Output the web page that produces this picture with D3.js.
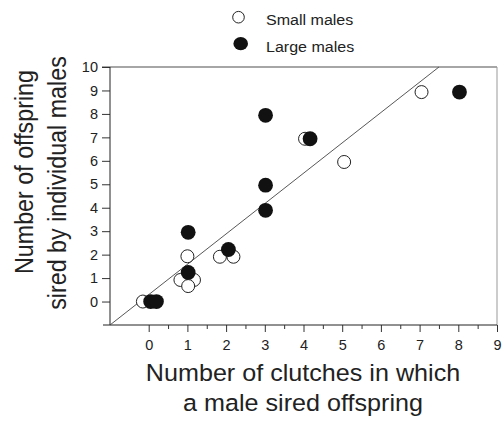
<!DOCTYPE html>
<html>
<head>
<meta charset="utf-8">
<script src="https://cdn.jsdelivr.net/npm/d3@7"></script>
<style>
  body { margin: 0; background: #fff; }
  text { font-family: "Liberation Sans", Arial, sans-serif; fill: #222; }
</style>
</head>
<body>
<svg></svg>
<script>
// small males (open circles)
let smallX = [-0.15, 0.82, 1.17, 1.02, 1.0, 1.84, 2.19, 4.04, 5.05, 7.05]
let smallY = [0, 0.92, 0.92, 0.66, 1.93, 1.91, 1.91, 6.94, 5.95, 8.93]
// large males (filled)
let largeX = [0.05, 0.2, 1.02, 1.02, 2.06, 3.02, 3.02, 3.02, 4.17, 8.03]
let largeY = [0, 0, 1.24, 2.95, 2.22, 7.94, 4.96, 3.89, 6.94, 8.93]

let xTicks = [0, 1, 2, 3, 4, 5, 6, 7, 8, 9]
let xMinor = [0.5, 1.5, 2.5, 3.5, 4.5, 5.5, 6.5, 7.5, 8.5]
let yTicks = [0, 1, 2, 3, 4, 5, 6, 7, 8, 9, 10]

// fitted line end points
let lineX = [-1, 7.5]
let lineY = [-1, 10]

let width = 503
let height = 421
let stretch = 1.07 // the original picture is a bit wider than tall

let svg = d3.select('svg').attr('width', width).attr('height', height)

let xScale = d3.scaleLinear().domain([-1, 9]).range([110, 497])
let yScale = d3.scaleLinear().domain([-1, 10]).range([325, 67])

// frame top + right
svg.append('line').attr('x1', 102).attr('x2', 497).attr('y1', 67).attr('y2', 67)
    .attr('stroke', '#888').attr('stroke-width', 1.5)
svg.append('line').attr('x1', 497).attr('x2', 497).attr('y1', 67).attr('y2', 325)
    .attr('stroke', '#999').attr('stroke-width', 1)

// x axis
let xAxis = d3.axisBottom(xScale).tickValues(xTicks).tickSize(7).tickPadding(8).tickFormat(d3.format('d'))
let gx = svg.append('g').attr('transform', 'translate(0,325)').call(xAxis)
gx.select('.domain').remove()
gx.append('line').attr('x1', 103).attr('x2', 497).attr('stroke', '#222')
gx.selectAll('.tick line').attr('stroke', '#333')
gx.selectAll('.tick text').attr('font-size', 14.5).attr('fill', '#222')
    .attr('font-family', '"Liberation Sans", Arial, sans-serif')
let gxm = svg.append('g').attr('transform', 'translate(0,325)')
    .call(d3.axisBottom(xScale).tickValues(xMinor).tickSize(4).tickFormat(''))
gxm.select('.domain').remove()
gxm.selectAll('.tick line').attr('stroke', '#333')

// y axis
let yAxis = d3.axisLeft(yScale).tickValues(yTicks).tickSize(8).tickPadding(4)
let gy = svg.append('g').attr('transform', 'translate(110,0)').call(yAxis)
gy.select('.domain').remove()
gy.append('line').attr('y1', 67).attr('y2', 325).attr('stroke', '#222')
gy.selectAll('.tick line').attr('stroke', '#333')
gy.selectAll('.tick text').attr('font-size', 14.5).attr('fill', '#222')
    .attr('font-family', '"Liberation Sans", Arial, sans-serif')

// fitted line
svg.append('line')
    .attr('x1', xScale(lineX[0])).attr('y1', yScale(lineY[0]))
    .attr('x2', xScale(lineX[1])).attr('y2', yScale(lineY[1]))
    .attr('stroke', '#444').attr('stroke-width', 0.9)

// points
svg.append('g').selectAll('circle').data(smallX).join('circle')
    .attr('cx', (d) => xScale(d))
    .attr('cy', (d, i) => yScale(smallY[i]))
    .attr('r', 6.5).attr('fill', '#fff').attr('stroke', '#222').attr('stroke-width', 1)
svg.append('g').selectAll('circle').data(largeX).join('circle')
    .attr('cx', (d) => xScale(d))
    .attr('cy', (d, i) => yScale(largeY[i]))
    .attr('r', 7.4).attr('fill', '#111')

// legend
svg.append('circle').attr('cx', 238.5).attr('cy', 17.2).attr('r', 5.8)
    .attr('fill', '#fff').attr('stroke', '#222')
svg.append('text').attr('transform', 'translate(266,25) scale(' + stretch + ',1)')
    .attr('font-size', 15).text('Small males')
svg.append('ellipse').attr('cx', 240.7).attr('cy', 43.7).attr('rx', 7.3).attr('ry', 6.6).attr('fill', '#111')
svg.append('text').attr('transform', 'translate(266,51.5) scale(' + stretch + ',1)')
    .attr('font-size', 15).text('Large males')

// axis titles
svg.append('text').attr('transform', 'translate(303,381) scale(' + stretch + ',1)')
    .attr('text-anchor', 'middle').attr('font-size', 23.5).text('Number of clutches in which')
svg.append('text').attr('transform', 'translate(303,411) scale(' + stretch + ',1)')
    .attr('text-anchor', 'middle').attr('font-size', 23.5).text('a male sired offspring')
svg.append('text').attr('transform', 'translate(33,172) scale(' + stretch + ',1) rotate(-90)')
    .attr('text-anchor', 'middle').attr('font-size', 23.3).text('Number of offspring')
svg.append('text').attr('transform', 'translate(66,183) scale(' + stretch + ',1) rotate(-90)')
    .attr('text-anchor', 'middle').attr('font-size', 23.3).text('sired by individual males')
</script>
</body>
</html>
